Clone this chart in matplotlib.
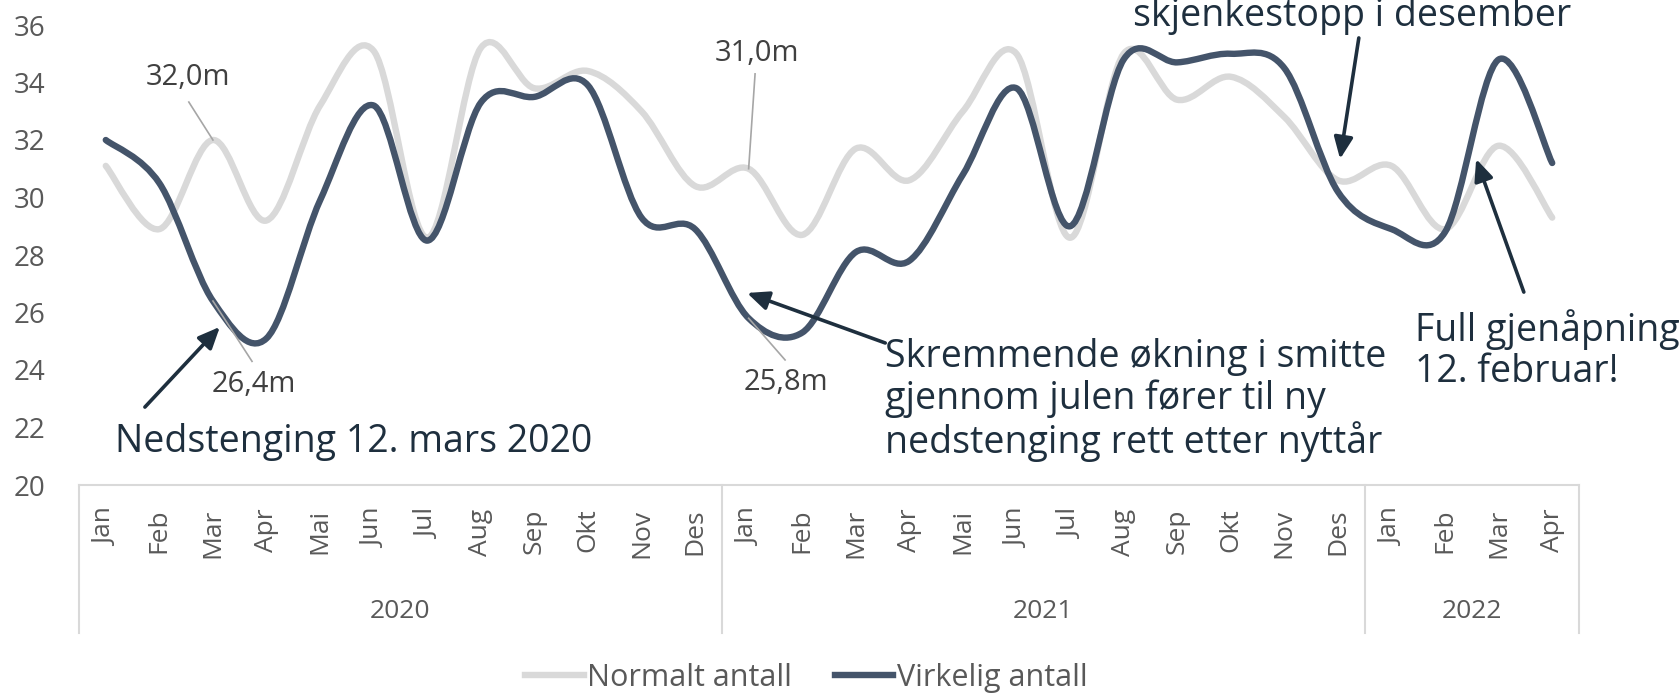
import numpy as np
import matplotlib
matplotlib.use('Agg')
import matplotlib.pyplot as plt
from matplotlib.path import Path
from matplotlib.patches import PathPatch
from matplotlib.lines import Line2D

plt.rcParams['font.family'] = ['Open Sans', 'DejaVu Sans']

months = ['Jan', 'Feb', 'Mar', 'Apr', 'Mai', 'Jun', 'Jul', 'Aug', 'Sep', 'Okt', 'Nov', 'Des',
          'Jan', 'Feb', 'Mar', 'Apr', 'Mai', 'Jun', 'Jul', 'Aug', 'Sep', 'Okt', 'Nov', 'Des',
          'Jan', 'Feb', 'Mar', 'Apr']
years = ['2020', '2021', '2022']
year_counts = [12, 12, 4]

normalt = [31.1, 28.9, 32.0, 29.2, 33.2, 35.1, 28.6, 35.2, 33.8, 34.4, 33.0, 30.4,
           31.0, 28.7, 31.7, 30.6, 33.0, 35.0, 28.6, 35.0, 33.4, 34.2, 32.8, 30.6,
           31.1, 28.9, 31.8, 29.3]
virkelig = [32.0, 30.5, 26.4, 25.1, 29.9, 33.2, 28.5, 33.3, 33.5, 33.9, 29.3, 28.9,
            25.8, 25.3, 28.1, 27.8, 30.8, 33.8, 29.0, 34.8, 34.7, 35.0, 34.5, 30.2,
            28.9, 28.8, 34.8, 31.2]

GRAY = '#D9D9D9'
DARK = '#44546A'
NAVY = '#1E2F3E'
TXT = '#595959'
LBL = '#404040'

W, H = 1681, 693
fig = plt.figure(figsize=(W / 100, H / 100), dpi=100)
ax = fig.add_axes([79 / W, 1 - 485 / H, 1500 / W, 460 / H])
ax.set_xlim(-0.5, len(months) - 0.5)
ax.set_ylim(20, 36)


def smooth_path(ys):
    pts = np.column_stack([np.arange(len(ys), dtype=float), np.asarray(ys, float)])
    n = len(pts)
    verts = [pts[0]]
    codes = [Path.MOVETO]
    for i in range(n - 1):
        p0 = pts[i - 1] if i > 0 else pts[i]
        p1 = pts[i]
        p2 = pts[i + 1]
        p3 = pts[i + 2] if i + 2 < n else pts[i + 1]
        verts += [p1 + (p2 - p0) / 6, p2 - (p3 - p1) / 6, p2]
        codes += [Path.CURVE4] * 3
    return Path(verts, codes)


for data, col in [(normalt, GRAY), (virkelig, DARK)]:
    ax.add_patch(PathPatch(smooth_path(data), facecolor='none', edgecolor=col,
                           lw=4.6, capstyle='round', joinstyle='round'))

for s in ax.spines.values():
    s.set_visible(False)
ax.set_yticks(range(20, 37, 2))
ax.tick_params(axis='y', length=0, labelsize=20, labelcolor=TXT, pad=24)
ax.set_xticks(range(len(months)))
ax.set_xticklabels(months, rotation=90, fontsize=19, color=TXT)
ax.tick_params(axis='x', length=0, pad=17)

# category box
box_bottom = -(633 - 485) / 460.0
ax.plot([0, 1], [0, 0], transform=ax.transAxes, color=GRAY, lw=1.5, clip_on=False)
start = -0.5
bounds = [start]
for c in year_counts:
    start += c
    bounds.append(start)
for b in bounds:
    ax.plot([b, b], [20, 20 + box_bottom * 16], color=GRAY, lw=1.5, clip_on=False)
yr_y = 20 + (-(611 - 485) / 460.0) * 16
for i, yname in enumerate(years):
    xc = (bounds[i] + bounds[i + 1]) / 2
    ax.text(xc, yr_y, yname, ha='center', va='center', fontsize=19, color=TXT, clip_on=False)

# data labels with leader lines
def dlabel(txt, pos, p_from, p_to):
    ax.text(pos[0], pos[1], txt, ha='center', va='center', fontsize=21, color=LBL)
    ax.plot([p_from[0], p_to[0]], [p_from[1], p_to[1]], color='#A6A6A6', lw=1.2)

dlabel('32,0m', (1.53, 34.19), (1.55, 33.32), (2.0, normalt[2]))
dlabel('26,4m', (2.77, 23.5), (2.0, virkelig[2]), (2.73, 24.3))
dlabel('31,0m', (12.16, 35.0), (12.12, 34.3), (12.0, normalt[12]))
dlabel('25,8m', (12.7, 23.55), (12.0, virkelig[12]), (12.68, 24.35))

# annotations
ann_kw = dict(annotation_clip=False,
              arrowprops=dict(arrowstyle='-|>,head_length=0.5,head_width=0.22', color=NAVY,
                              lw=2.6, shrinkA=0, shrinkB=0, mutation_scale=26))
FS = 27
ax.text(0.17, 21.5, 'Nedstenging 12. mars 2020', fontsize=FS, color=NAVY, va='center', ha='left')
ax.annotate('', xy=(2.13, 25.5), xytext=(0.73, 22.71), **ann_kw)

ax.text(14.55, 22.96, 'Skremmende økning i smitte\ngjennom julen fører til ny\nnedstenging rett etter nyttår',
        fontsize=FS, color=NAVY, va='center', ha='left', linespacing=1.1)
ax.annotate('', xy=(11.97, 26.68), xytext=(14.55, 24.94), **ann_kw)

ax.text(19.18, 36.31, 'skjenkestopp i desember', fontsize=FS, color=NAVY, va='center', ha='left',
        clip_on=False)
ax.annotate('', xy=(23.04, 31.34), xytext=(23.39, 35.55), **ann_kw)

ax.text(24.44, 24.7, 'Full gjenåpning\n12. februar!', fontsize=FS, color=NAVY, va='center', ha='left',
        linespacing=1.1, clip_on=False)
ax.annotate('', xy=(25.58, 31.34), xytext=(26.47, 26.71), **ann_kw)

handles = [Line2D([], [], color=GRAY, lw=4.6), Line2D([], [], color=DARK, lw=4.6)]
leg = fig.legend(handles, ['Normalt antall', 'Virkelig antall'], loc='center',
                 bbox_to_anchor=(806 / W, 1 - 678 / H), ncol=2, frameon=False,
                 fontsize=22, handlelength=1.93, handletextpad=0.1, columnspacing=1.4,
                 borderpad=0, borderaxespad=0)
for t in leg.get_texts():
    t.set_color(TXT)

fig.savefig('out.png', dpi=100)
